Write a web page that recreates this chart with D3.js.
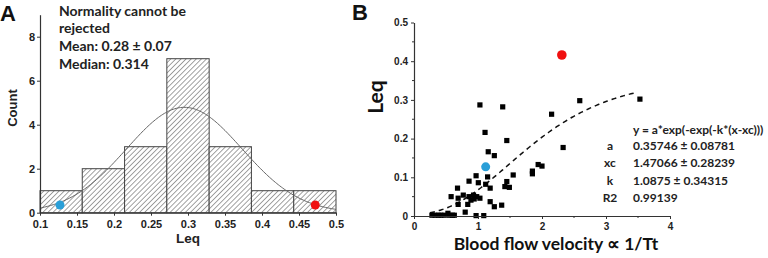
<!DOCTYPE html>
<html><head><meta charset="utf-8">
<script src="https://cdn.jsdelivr.net/npm/d3@7"></script>
<style>body{margin:0;background:#fff}svg{display:block}</style>
</head><body>
<svg id="c" width="768" height="258"></svg>
<script>
// ---------- Data ----------
// Panel A: histogram of Leq
const binEdges = [0.1, 0.1571, 0.2143, 0.2714, 0.3286, 0.3857, 0.4429, 0.5];
const binCounts = [1, 2, 3, 7, 3, 1, 1];
const histXTicks = [0.1, 0.15, 0.2, 0.25, 0.3, 0.35, 0.4, 0.45, 0.5];
const histYTicks = [0, 2, 4, 6, 8];
const normalFit = {mean: 0.295, sd: 0.078, peak: 4.79};
const histBlue = [0.127, 0.35];
const histRed = [0.472, 0.35];
const annotLines = ["Normality cannot be", "rejected", "Mean: 0.28 \u00b1 0.07", "Median: 0.314"];

// Panel B: scatter Leq vs blood flow velocity
const scatterX = [1.03, 1.386, 1.11, 1.16, 1.255, 0.97, 1.15, 0.86, 1.005, 0.68, 1.12, 1.19,
  0.58, 0.69, 0.77, 0.86, 0.93, 0.98, 0.89, 0.94, 1.03, 0.69, 0.84, 1.19, 1.255, 1.37,
  0.80, 0.53, 0.28, 0.33, 0.38, 0.42, 0.47, 0.55, 0.60, 0.63, 0.97, 1.09,
  2.15, 1.45, 2.33, 1.94, 2.0, 1.85, 1.85, 1.55, 1.45, 1.42, 1.49, 2.59, 3.53];
const scatterY = [0.287, 0.282, 0.216, 0.166, 0.156, 0.104, 0.101, 0.090, 0.086, 0.072, 0.082, 0.072,
  0.050, 0.046, 0.054, 0.050, 0.054, 0.050, 0.041, 0.044, 0.046, 0.030, 0.030, 0.037, 0.024, 0.028,
  0.010, 0.007, 0.002, 0.002, 0.002, 0.002, 0.002, 0.002, 0.002, 0.002, 0.001, 0.001,
  0.263, 0.195, 0.177, 0.133, 0.129, 0.116, 0.109, 0.106, 0.089, 0.076, 0.074, 0.298, 0.302];
const scatBlue = [1.12, 0.127];
const scatRed = [2.31, 0.416];
const fitParams = {a: 0.35746, xc: 1.47066, k: 1.0875, xmin: 0.25, xmax: 3.5};
const fitLabels = ["a", "xc", "k", "R2"];
const fitValues = ["0.35746 \u00b1 0.08781", "1.47066 \u00b1 0.28239", "1.0875 \u00b1 0.34315", "0.99139"];
const scatXTicks = [0, 1, 2, 3, 4];
const scatYTicks = [0, 0.1, 0.2, 0.3, 0.4, 0.5];

// ---------- Drawing ----------
const svg = d3.select("#c");
const axisCol = "#333";
const tickFont = "'Liberation Sans', Arial, sans-serif";
const annFont = "Lato, 'Open Sans', sans-serif";

const defs = svg.append("defs");
const pat = defs.append("pattern").attr("id", "hatch").attr("patternUnits", "userSpaceOnUse")
  .attr("width", 3.6).attr("height", 3.6).attr("patternTransform", "rotate(45)");
pat.append("rect").attr("width", 3.6).attr("height", 3.6).attr("fill", "#fff");
pat.append("line").attr("x1", 0).attr("y1", 0).attr("x2", 0).attr("y2", 3.6)
  .attr("stroke", "#444").attr("stroke-width", 1);

// ----- Panel A -----
const xA = d3.scaleLinear().domain([0.1, 0.5]).range([40, 336]);
const yA = d3.scaleLinear().domain([0, 9]).range([212.7, 14.7]);
const gA = svg.append("g");

gA.selectAll("rect.bin").data(binCounts).join("rect").attr("class", "bin")
  .attr("x", (d, i) => xA(binEdges[i]))
  .attr("width", (d, i) => xA(binEdges[i + 1]) - xA(binEdges[i]))
  .attr("y", d => yA(d)).attr("height", d => yA(0) - yA(d))
  .attr("fill", "url(#hatch)").attr("stroke", "#444").attr("stroke-width", 1);

const gx = d3.range(0.1, 0.5001, 0.002);
const gauss = x => normalFit.peak * Math.exp(-Math.pow(x - normalFit.mean, 2) / (2 * normalFit.sd * normalFit.sd));
gA.append("path").datum(gx)
  .attr("d", d3.line().x(d => xA(d)).y(d => yA(gauss(d))))
  .attr("fill", "none").attr("stroke", "#666").attr("stroke-width", 1);

gA.append("circle").attr("cx", xA(histBlue[0])).attr("cy", yA(histBlue[1])).attr("r", 4.5).attr("fill", "#2a9fd8");
gA.append("circle").attr("cx", xA(histRed[0])).attr("cy", yA(histRed[1])).attr("r", 4.5).attr("fill", "#f01010");

const axAx = gA.append("g").attr("transform", `translate(0,${yA(0)})`)
  .call(d3.axisBottom(xA).tickValues(histXTicks).tickFormat(d => d3.format("")(+d.toFixed(2))).tickSize(3).tickSizeOuter(0));
const axAy = gA.append("g").attr("transform", `translate(${xA(0.1)},0)`)
  .call(d3.axisLeft(yA).tickValues(histYTicks).tickFormat(d3.format("d")).tickSize(3).tickSizeOuter(0));
[axAx, axAy].forEach(a => {
  a.select(".domain").attr("stroke", axisCol).attr("stroke-width", 1.2);
  a.selectAll(".tick line").attr("stroke", axisCol);
  a.selectAll("text").attr("font-family", tickFont).attr("font-weight", "bold").attr("font-size", 11).attr("fill", "#222");
});
axAx.selectAll("text").attr("dy", "0.85em");
axAy.selectAll("text").attr("x", -5);

gA.append("text").attr("x", 188).attr("y", 243).attr("text-anchor", "middle")
  .attr("font-family", tickFont).attr("font-weight", "bold").attr("font-size", 13.5).attr("fill", "#222").text("Leq");
gA.append("text").attr("transform", "translate(17,108) rotate(-90)").attr("text-anchor", "middle")
  .attr("font-family", tickFont).attr("font-weight", "bold").attr("font-size", 13).attr("fill", "#222").text("Count");
gA.append("text").attr("x", 0).attr("y", 21).attr("font-family", tickFont).attr("font-weight", "bold")
  .attr("font-size", 22).attr("fill", "#111").text("A");

gA.selectAll("text.ann").data(annotLines).join("text").attr("class", "ann")
  .attr("x", 59).attr("y", (d, i) => 15.5 + i * 17.7)
  .attr("font-family", annFont).attr("font-weight", "bold").attr("font-size", 14).attr("fill", "#222")
  .text(d => d);

// ----- Panel B -----
const xB = d3.scaleLinear().domain([0, 4]).range([414, 670]);
const yB = d3.scaleLinear().domain([0, 0.5]).range([216, 22.5]);
const gB = svg.append("g");

const fx = d3.range(fitParams.xmin, fitParams.xmax + 0.001, 0.02);
const fitF = x => fitParams.a * Math.exp(-Math.exp(-fitParams.k * (x - fitParams.xc)));
gB.append("path").datum(fx)
  .attr("d", d3.line().x(d => xB(d)).y(d => yB(fitF(d))))
  .attr("fill", "none").attr("stroke", "#111").attr("stroke-width", 1.5).attr("stroke-dasharray", "5,4");

gB.selectAll("rect.pt").data(scatterX).join("rect").attr("class", "pt")
  .attr("x", (d) => xB(d) - 2.6).attr("y", (d, i) => yB(scatterY[i]) - 2.6)
  .attr("width", 5.2).attr("height", 5.2).attr("fill", "#000");

gB.append("circle").attr("cx", xB(scatBlue[0])).attr("cy", yB(scatBlue[1])).attr("r", 4.5).attr("fill", "#2a9fd8");
gB.append("circle").attr("cx", xB(scatRed[0])).attr("cy", yB(scatRed[1])).attr("r", 4.8).attr("fill", "#f01010");

const axBx = gB.append("g").attr("transform", `translate(0,${yB(0)})`)
  .call(d3.axisBottom(xB).tickValues(scatXTicks).tickFormat(d3.format("d")).tickSize(3).tickSizeOuter(0));
const axBy = gB.append("g").attr("transform", `translate(${xB(0)},0)`)
  .call(d3.axisLeft(yB).tickValues(scatYTicks).tickFormat(d => d3.format("")(+d.toFixed(1))).tickSize(3).tickSizeOuter(0));
[axBx, axBy].forEach(a => {
  a.select(".domain").attr("stroke", axisCol).attr("stroke-width", 1.2);
  a.selectAll(".tick line").attr("stroke", axisCol);
  a.selectAll("text").attr("font-family", tickFont).attr("font-weight", "bold").attr("font-size", 10).attr("fill", "#222");
});
axBx.selectAll("text").attr("dy", "0.8em");
axBy.selectAll("text").attr("x", -6);
// minor ticks
gB.selectAll("line.mx").data(d3.range(0.5, 4, 1)).join("line").attr("class", "mx")
  .attr("x1", d => xB(d)).attr("x2", d => xB(d)).attr("y1", yB(0)).attr("y2", yB(0) + 2).attr("stroke", axisCol);
gB.selectAll("line.my").data(d3.range(0.05, 0.5, 0.1)).join("line").attr("class", "my")
  .attr("y1", d => yB(d)).attr("y2", d => yB(d)).attr("x1", xB(0)).attr("x2", xB(0) - 2).attr("stroke", axisCol);

gB.append("text").attr("x", 352).attr("y", 20).attr("font-family", tickFont).attr("font-weight", "bold")
  .attr("font-size", 22).attr("fill", "#111").text("B");
gB.append("text").attr("transform", "translate(383,97) rotate(-90)").attr("text-anchor", "middle")
  .attr("font-family", annFont).attr("font-weight", "bold").attr("font-size", 21).attr("fill", "#111").text("Leq");
gB.append("text").attr("x", 556).attr("y", 250).attr("text-anchor", "middle")
  .attr("font-family", annFont).attr("font-weight", "bold").attr("font-size", 17.5).attr("fill", "#111")
  .text("Blood flow velocity \u221d 1/Tt");

gB.append("text").attr("x", 633).attr("y", 133.5).attr("font-family", annFont).attr("font-weight", "bold")
  .attr("font-size", 12).attr("fill", "#222").text("y = a*exp(-exp(-k*(x-xc)))");
gB.selectAll("text.fl").data(fitLabels).join("text").attr("class", "fl")
  .attr("x", 610).attr("y", (d, i) => 150 + i * 17.4).attr("text-anchor", "middle")
  .attr("font-family", annFont).attr("font-weight", "bold").attr("font-size", 12).attr("fill", "#222").text(d => d);
gB.selectAll("text.fv").data(fitValues).join("text").attr("class", "fv")
  .attr("x", 633).attr("y", (d, i) => 150 + i * 17.4)
  .attr("font-family", annFont).attr("font-weight", "bold").attr("font-size", 12).attr("fill", "#222").text(d => d);
</script>
</body></html>
